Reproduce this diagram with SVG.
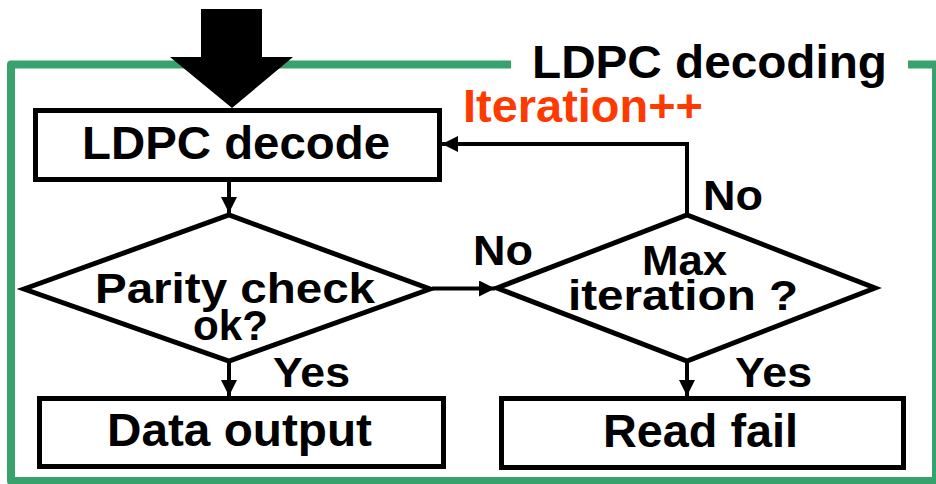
<svg xmlns="http://www.w3.org/2000/svg" width="936" height="484" viewBox="0 0 936 484">
  <style>
    .frame { fill: none; stroke: #38A26C; stroke-width: 8; stroke-linejoin: round; }
    .box { fill: #FFFFFF; stroke: #000000; stroke-width: 5; }
    .link { fill: none; stroke: #000000; stroke-width: 4; }
    text { font-family: "Liberation Sans", Arial, sans-serif; font-weight: bold; fill: #000000; }
    .big { font-size: 46px; }
    .mid { font-size: 43px; }
    .red { fill: #FF3A00; }
  </style>
  <defs>
    <marker id="head" viewBox="0 0 16 16" refX="16" refY="8" markerWidth="16" markerHeight="16" markerUnits="userSpaceOnUse" orient="auto">
      <path d="M0,0 L16,8 L0,16 Z" fill="#000000"/>
    </marker>
  </defs>

  <!-- enclosing frame with a gap for its title -->
  <path class="frame" d="M511,64.5 H11 V481 H936 V64.5 H908"/>
  <text class="big" x="532" y="78" textLength="355" lengthAdjust="spacingAndGlyphs">LDPC decoding</text>

  <!-- input arrow -->
  <polygon points="201,9 262,9 262,57 293,57 232,108 170,57 201,57" fill="#000000"/>

  <g id="connectors">
    <line class="link" x1="229" y1="182" x2="229" y2="213" marker-end="url(#head)"/>
    <line class="link" x1="229" y1="362" x2="229" y2="396" marker-end="url(#head)"/>
    <line class="link" x1="432" y1="288.5" x2="495" y2="288.5" marker-end="url(#head)"/>
    <line class="link" x1="687" y1="362" x2="687" y2="396" marker-end="url(#head)"/>
    <polyline class="link" points="687,213 687,144 442,144" marker-end="url(#head)"/>
    <text class="big red" x="463" y="122" textLength="240" lengthAdjust="spacingAndGlyphs">Iteration++</text>
    <text class="mid" x="473" y="265" textLength="60" lengthAdjust="spacingAndGlyphs">No</text>
    <text class="mid" x="703" y="210" textLength="60" lengthAdjust="spacingAndGlyphs">No</text>
    <text class="mid" x="273" y="387" textLength="77" lengthAdjust="spacingAndGlyphs">Yes</text>
    <text class="mid" x="735" y="387" textLength="77" lengthAdjust="spacingAndGlyphs">Yes</text>
  </g>

  <g id="decode">
    <rect class="box" x="35.5" y="110.5" width="404" height="69"/>
    <text class="big" x="82" y="159" textLength="308" lengthAdjust="spacingAndGlyphs">LDPC decode</text>
  </g>

  <g id="parity">
    <polygon class="box" points="24,289 229,215 430,289 229,361"/>
    <text class="mid" x="95" y="303" textLength="280" lengthAdjust="spacingAndGlyphs">Parity check</text>
    <text class="mid" x="193" y="340" textLength="75" lengthAdjust="spacingAndGlyphs">ok?</text>
  </g>

  <g id="maxiter">
    <polygon class="box" points="497,288 687,215 875,288 687,361"/>
    <text class="mid" x="642" y="275" textLength="85" lengthAdjust="spacingAndGlyphs">Max</text>
    <text class="mid" x="568" y="310" textLength="230" lengthAdjust="spacingAndGlyphs">iteration ?</text>
  </g>

  <g id="output">
    <rect class="box" x="39.5" y="398.5" width="404" height="68"/>
    <text class="big" x="107" y="446" textLength="265" lengthAdjust="spacingAndGlyphs">Data output</text>
  </g>

  <g id="fail">
    <rect class="box" x="501.5" y="398.5" width="402" height="69"/>
    <text class="big" x="603" y="447" textLength="195" lengthAdjust="spacingAndGlyphs">Read fail</text>
  </g>
</svg>
